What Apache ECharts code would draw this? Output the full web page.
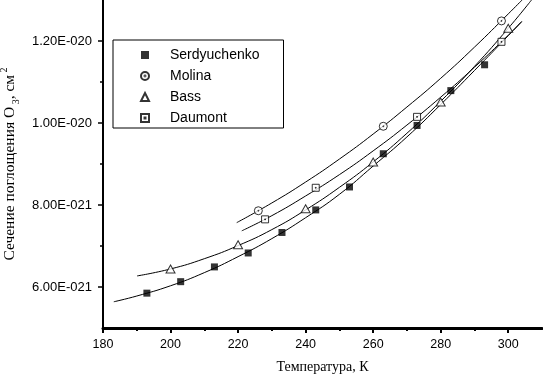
<!DOCTYPE html>
<html>
<head>
<meta charset="utf-8">
<script src="https://cdn.jsdelivr.net/npm/echarts@6/dist/echarts.min.js"></script>
<style>
  html, body { margin: 0; padding: 0; background: #fff; }
  #chart { width: 543px; height: 375px; }
</style>
</head>
<body>
<div id="chart"></div>
<script>
// cross-section values in units of 1e-21 cm^2
const serdT = [193, 203, 213, 223, 233, 243, 253, 263, 273, 283, 293];
const serdV = [5.85, 6.13, 6.49, 6.83, 7.33, 7.88, 8.44, 9.25, 9.94, 10.79, 11.42];
const molinaT = [226, 263, 298];
const molinaV = [7.86, 9.92, 12.49];
const bassT = [200, 220, 240, 260, 280, 300];
const bassV = [6.44, 7.03, 7.91, 9.05, 10.51, 12.31];
const daumontT = [228, 243, 273, 298];
const daumontV = [7.65, 8.42, 10.15, 11.98];

// fitted curves
const serdFitT = [183.2, 190, 200, 210, 220, 230, 240, 250, 260, 270, 280, 290, 300, 304];
const serdFitV = [5.64, 5.78, 6.03, 6.35, 6.74, 7.18, 7.69, 8.26, 8.95, 9.66, 10.45, 11.28, 12.13, 12.48];
const molinaFitT = [219.6, 230, 240, 250, 260, 270, 280, 290, 300, 304.1];
const molinaFitV = [7.57, 8.05, 8.56, 9.12, 9.73, 10.39, 11.09, 11.85, 12.66, 13.0];
const bassFitT = [190.1, 200, 210, 220, 230, 240, 250, 260, 270, 280, 290, 300, 306.9];
const bassFitV = [6.27, 6.44, 6.69, 7.01, 7.40, 7.88, 8.43, 9.05, 9.75, 10.53, 11.38, 12.31, 13.0];
const daumontFitT = [221.1, 230, 240, 250, 260, 270, 280, 290, 300, 304];
const daumontFitV = [7.37, 7.74, 8.22, 8.74, 9.32, 9.95, 10.63, 11.36, 12.14, 12.47];

const xMajor = [180, 200, 220, 240, 260, 280, 300];
const xMinor = [190, 210, 230, 250, 270, 290];
const yMajor = [6, 8, 10, 12];
const yMinor = [7, 9, 11];

const pairs = (xs, ys) => xs.map((x, i) => [x, ys[i]]);

const fmtY = v => v >= 10 ? (v / 10).toFixed(2) + 'E-020' : v.toFixed(2) + 'E-021';

const circleDot = 'path://M0,5a5,5 0 1,0 10,0a5,5 0 1,0 -10,0ZM4.4,5a0.6,0.6 0 1,0 1.2,0a0.6,0.6 0 1,0 -1.2,0Z';
const squareDot = 'path://M0,0H10V10H0ZM4.4,4.4H5.6V5.6H4.4Z';

const myChart = echarts.init(document.getElementById('chart'), null, { renderer: 'canvas' });

const fitLine = data => ({
    type: 'line',
    data: data,
    smooth: true,
    showSymbol: false,
    silent: true,
    lineStyle: { color: '#000', width: 1 },
    z: 2
});

const openStyle = { color: '#fff', borderColor: '#000', borderWidth: 1 };

const option = {
    animation: false,
    backgroundColor: '#fff',
    grid: { left: 103, right: 1, top: 0, bottom: 47, outerBoundsMode: 'none', containLabel: false },
    legend: {
        orient: 'vertical',
        left: 113,
        top: 40,
        data: ['Serdyuchenko', 'Molina', 'Bass', 'Daumont'],
        borderColor: '#000',
        borderWidth: 1,
        padding: [8, 24, 3, 27],
        itemWidth: 8,
        itemHeight: 8,
        itemGap: 7,
        textStyle: {
            fontFamily: 'Liberation Sans',
            fontSize: 14,
            lineHeight: 14,
            color: '#000',
            padding: [0, 0, 0, 16]
        }
    },
    xAxis: [{
        type: 'value',
        min: 180,
        max: 310,
        name: 'Температура, К',
        nameLocation: 'middle',
        nameGap: 32,
        nameTextStyle: { fontFamily: 'Liberation Serif', fontSize: 14, color: '#000' },
        axisLine: { show: true, lineStyle: { color: '#000', width: 3 } },
        axisTick: { show: true, customValues: xMajor, length: 5, lineStyle: { color: '#000', width: 2 } },
        axisLabel: { customValues: xMajor, margin: 10, color: '#000', fontFamily: 'Liberation Sans', fontSize: 12.5 },
        splitLine: { show: false }
    }, {
        type: 'value',
        min: 180,
        max: 310,
        position: 'bottom',
        axisLine: { show: false },
        axisTick: { show: true, customValues: xMinor, length: 3, lineStyle: { color: '#000', width: 2 } },
        axisLabel: { show: false },
        splitLine: { show: false }
    }],
    yAxis: [{
        type: 'value',
        min: 5,
        max: 13,
        name: '{t|Сечение поглощения O}{s| 3}{t|, см}{p| 2}',
        nameLocation: 'middle',
        nameRotate: 90,
        nameGap: 80,
        nameTextStyle: {
            color: '#000',
            rich: {
                t: { fontFamily: 'Liberation Serif', fontSize: 15.5, lineHeight: 22, color: '#000' },
                s: { fontFamily: 'Liberation Serif', fontSize: 10, verticalAlign: 'bottom', color: '#000' },
                p: { fontFamily: 'Liberation Serif', fontSize: 10, verticalAlign: 'top', color: '#000' }
            }
        },
        axisLine: { show: true, lineStyle: { color: '#000', width: 2 } },
        axisTick: { show: true, customValues: yMajor, length: 5, lineStyle: { color: '#000', width: 1.5 } },
        axisLabel: { customValues: yMajor, margin: 11, color: '#000', fontFamily: 'Liberation Sans', fontSize: 13, formatter: fmtY },
        splitLine: { show: false }
    }, {
        type: 'value',
        min: 5,
        max: 13,
        position: 'left',
        axisLine: { show: false },
        axisTick: { show: true, customValues: yMinor, length: 3, lineStyle: { color: '#000', width: 1.5 } },
        axisLabel: { show: false },
        splitLine: { show: false }
    }],
    series: [
        fitLine(pairs(serdFitT, serdFitV)),
        fitLine(pairs(molinaFitT, molinaFitV)),
        fitLine(pairs(bassFitT, bassFitV)),
        fitLine(pairs(daumontFitT, daumontFitV)),
        {
            name: 'Serdyuchenko',
            type: 'scatter',
            data: pairs(serdT, serdV),
            symbol: 'rect',
            symbolSize: 7,
            itemStyle: { color: '#000' },
            z: 5
        },
        {
            name: 'Molina',
            type: 'scatter',
            data: pairs(molinaT, molinaV),
            symbol: circleDot,
            symbolSize: 8,
            itemStyle: openStyle,
            z: 5
        },
        {
            name: 'Bass',
            type: 'scatter',
            data: pairs(bassT, bassV),
            symbol: 'triangle',
            symbolSize: [9, 8],
            itemStyle: openStyle,
            z: 5
        },
        {
            name: 'Daumont',
            type: 'scatter',
            data: pairs(daumontT, daumontV),
            symbol: squareDot,
            symbolSize: 7,
            itemStyle: openStyle,
            z: 5
        }
    ]
};

myChart.setOption(option);
window.addEventListener('resize', () => {
    myChart.resize();
});
</script>
</body>
</html>
